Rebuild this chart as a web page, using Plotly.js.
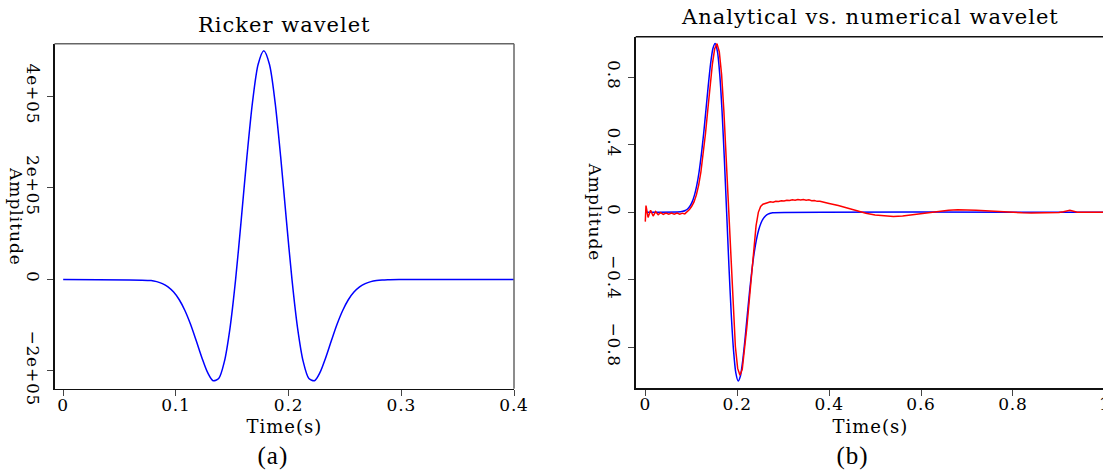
<!DOCTYPE html>
<html><head><meta charset="utf-8">
<script src="https://cdn.plot.ly/plotly-3.0.1.min.js"></script>
<style>
html,body{margin:0;padding:0;overflow:hidden;background:#fff;width:1103px;height:472px}
#chart{width:1120px;height:472px}
#chart .xtick text, #chart .ytick text, #chart .x2tick text, #chart .y2tick text{letter-spacing:0.8px}
#chart .annotation-text{letter-spacing:1px}
</style>
</head><body><div id="chart"></div><script>
// ---- Panel (a): Ricker wavelet ----
const rickerTime = [0, 0.078, 0.083, 0.088, 0.093, 0.098, 0.103, 0.108, 0.113, 0.118, 0.123, 0.128, 0.133, 0.138, 0.143, 0.148, 0.153, 0.158, 0.163, 0.168, 0.173, 0.178, 0.183, 0.188, 0.193, 0.198, 0.203, 0.208, 0.213, 0.218, 0.223, 0.228, 0.233, 0.238, 0.243, 0.248, 0.253, 0.258, 0.263, 0.268, 0.273, 0.278, 0.283, 0.288, 0.298, 0.31, 0.4];
const rickerAmp = [0, -2500, -4900, -9200, -16300, -27700, -44500, -68000, -98200, -133800, -170900, -203000, -221600, -216800, -180000, -106900, 0, 130900, 267400, 387800, 470500, 500000, 470500, 387800, 267400, 130900, 0, -106900, -180000, -216800, -221600, -203000, -170900, -133800, -98200, -68000, -44500, -27700, -16300, -9200, -4900, -2500, -1200, -600, -100, 0, 0];
const aXTicks = [0, 0.1, 0.2, 0.3, 0.4];
const aXTickText = ['0', '0.1', '0.2', '0.3', '0.4'];
const aYTicks = [-200000, 0, 200000, 400000];
const aYTickText = ['\u22122e+05', '0', '2e+05', '4e+05'];

// ---- Panel (b): Analytical vs numerical ----
const analyticTime = [0, 0.077, 0.082, 0.087, 0.092, 0.097, 0.102, 0.107, 0.112, 0.117, 0.122, 0.127, 0.132, 0.137, 0.142, 0.147, 0.152, 0.157, 0.162, 0.167, 0.172, 0.177, 0.182, 0.187, 0.192, 0.197, 0.202, 0.207, 0.212, 0.217, 0.222, 0.227, 0.232, 0.237, 0.242, 0.247, 0.252, 0.257, 0.262, 0.267, 0.272, 0.277, 1.0];
const analyticAmp = [0, 0.003, 0.006, 0.011, 0.020, 0.036, 0.062, 0.102, 0.160, 0.239, 0.343, 0.467, 0.608, 0.751, 0.879, 0.970, 1.000, 0.952, 0.818, 0.601, 0.318, 0, -0.318, -0.601, -0.818, -0.952, -1.000, -0.970, -0.879, -0.751, -0.608, -0.467, -0.343, -0.239, -0.160, -0.102, -0.062, -0.036, -0.020, -0.011, -0.006, -0.003, 0];
const numericTime = [0, 0.0015, 0.006, 0.0115, 0.017, 0.0225, 0.028, 0.0335, 0.039, 0.045, 0.051, 0.057, 0.063, 0.069, 0.075, 0.081, 0.086, 0.091, 0.096, 0.101, 0.106, 0.111, 0.116, 0.121, 0.126, 0.131, 0.136, 0.141, 0.146, 0.151, 0.156, 0.161, 0.166, 0.171, 0.176, 0.181, 0.186, 0.191, 0.196, 0.201, 0.206, 0.211, 0.216, 0.221, 0.226, 0.231, 0.236, 0.241, 0.246, 0.251, 0.256, 0.261, 0.266, 0.272, 0.278, 0.284, 0.290, 0.296, 0.302, 0.308, 0.314, 0.320, 0.326, 0.332, 0.338, 0.344, 0.350, 0.356, 0.362, 0.368, 0.374, 0.380, 0.386, 0.392, 0.400, 0.420, 0.440, 0.460, 0.480, 0.500, 0.520, 0.540, 0.560, 0.580, 0.600, 0.620, 0.640, 0.660, 0.680, 0.700, 0.720, 0.740, 0.760, 0.780, 0.800, 0.820, 0.840, 0.860, 0.880, 0.900, 0.910, 0.918, 0.924, 0.930, 0.940, 0.960, 1.000];
const numericAmp = [-0.055, 0.040, -0.030, 0.012, -0.022, 0.004, -0.014, -0.002, -0.012, -0.004, -0.011, -0.004, -0.011, -0.004, -0.011, -0.005, -0.009, 0.002, 0.016, 0.036, 0.062, 0.102, 0.160, 0.239, 0.343, 0.467, 0.608, 0.751, 0.879, 0.970, 1.000, 0.952, 0.818, 0.601, 0.318, 0.000, -0.310, -0.585, -0.795, -0.925, -0.966, -0.930, -0.820, -0.680, -0.530, -0.370, -0.220, -0.080, 0.000, 0.035, 0.048, 0.054, 0.057, 0.062, 0.060, 0.066, 0.064, 0.069, 0.067, 0.072, 0.070, 0.074, 0.072, 0.076, 0.073, 0.076, 0.072, 0.074, 0.069, 0.070, 0.065, 0.065, 0.060, 0.058, 0.052, 0.040, 0.025, 0.008, -0.006, -0.016, -0.022, -0.024, -0.022, -0.015, -0.006, 0.003, 0.009, 0.013, 0.015, 0.015, 0.013, 0.010, 0.006, 0.002, -0.001, -0.003, -0.004, -0.004, -0.003, -0.001, 0.003, 0.009, 0.012, 0.008, 0.001, 0, 0];
const bXTicks = [0, 0.2, 0.4, 0.6, 0.8, 1];
const bXTickText = ['0', '0.2', '0.4', '0.6', '0.8', '1'];
const bYTicks = [-0.8, -0.4, 0, 0.4, 0.8];
const bYTickText = ['\u22120.8', '\u22120.4', '0', '0.4', '0.8'];

// ---- layout helpers (pixel -> paper) ----
const W = 1120, H = 472;
const px = v => v / W;
const py = v => 1 - v / H;
const FONT = 'DejaVu Serif';

const baseAxis = {
  showgrid: false, zeroline: false, showline: true, linecolor: '#111', linewidth: 1.5,
  ticks: 'outside', ticklen: 6, tickwidth: 1, tickcolor: '#444',
  tickfont: {family: FONT, size: 17, color: '#000'}, fixedrange: true, tickmode: 'array'
};

const traces = [
  {x: rickerTime, y: rickerAmp, type: 'scatter', mode: 'lines', xaxis: 'x', yaxis: 'y',
   line: {color: '#0000ff', width: 1.5, shape: 'spline', smoothing: 0.8}, hoverinfo: 'skip'},
  {x: analyticTime, y: analyticAmp, type: 'scatter', mode: 'lines', xaxis: 'x2', yaxis: 'y2',
   line: {color: '#0000ff', width: 1.5, shape: 'spline', smoothing: 0.6}, hoverinfo: 'skip'},
  {x: numericTime, y: numericAmp, type: 'scatter', mode: 'lines', xaxis: 'x2', yaxis: 'y2',
   line: {color: '#ff0000', width: 1.5}, hoverinfo: 'skip'}
];

const layout = {
  width: W, height: H, margin: {l: 0, r: 0, t: 0, b: 0},
  paper_bgcolor: '#fff', plot_bgcolor: '#fff', showlegend: false,
  xaxis: Object.assign({}, baseAxis, {domain: [px(54.5), px(514)], range: [-0.0077, 0.4], anchor: 'y',
    tickvals: aXTicks, ticktext: aXTickText, ticklabelstandoff: -6}),
  yaxis: Object.assign({}, baseAxis, {domain: [py(388.7), py(43.7)], range: [-239100, 515600], anchor: 'x',
    tickvals: aYTicks, ticktext: aYTickText, tickangle: 90}),
  xaxis2: Object.assign({}, baseAxis, {domain: [px(635.7), px(1114)], range: [-0.0209, 1.02], anchor: 'y2',
    tickvals: bXTicks, ticktext: bXTickText, ticklabelstandoff: -6}),
  yaxis2: Object.assign({}, baseAxis, {domain: [py(388.3), py(36.7)], range: [-1.043, 1.041], anchor: 'x2',
    tickvals: bYTicks, ticktext: bYTickText, tickangle: 90}),
  shapes: [
    {type: 'line', xref: 'x domain', yref: 'y domain', x0: 0, x1: 1, y0: 1, y1: 1, line: {color: '#666', width: 1.5}},
    {type: 'line', xref: 'x domain', yref: 'y domain', x0: 1, x1: 1, y0: 0, y1: 1, line: {color: '#666', width: 1.5}},
    {type: 'line', xref: 'x2 domain', yref: 'y2 domain', x0: 0, x1: 1, y0: 1, y1: 1, line: {color: '#111', width: 1.5}}
  ],
  annotations: [
    {text: 'Ricker wavelet', x: px(284), y: py(25), xref: 'paper', yref: 'paper', showarrow: false,
     xanchor: 'center', yanchor: 'middle', font: {family: FONT, size: 21, color: '#000'}},
    {text: 'Analytical vs. numerical wavelet', x: px(870), y: py(17), xref: 'paper', yref: 'paper', showarrow: false,
     xanchor: 'center', yanchor: 'middle', font: {family: FONT, size: 21, color: '#000'}},
    {text: 'Time(s)', x: px(284), y: py(426), xref: 'paper', yref: 'paper', showarrow: false,
     xanchor: 'center', yanchor: 'middle', font: {family: FONT, size: 18, color: '#000'}},
    {text: 'Time(s)', x: px(870), y: py(426), xref: 'paper', yref: 'paper', showarrow: false,
     xanchor: 'center', yanchor: 'middle', font: {family: FONT, size: 18, color: '#000'}},
    {text: 'Amplitude', x: px(15.5), y: py(216), xref: 'paper', yref: 'paper', showarrow: false, textangle: 90,
     xanchor: 'center', yanchor: 'middle', font: {family: FONT, size: 17, color: '#000'}},
    {text: 'Amplitude', x: px(595), y: py(212), xref: 'paper', yref: 'paper', showarrow: false, textangle: 90,
     xanchor: 'center', yanchor: 'middle', font: {family: FONT, size: 17, color: '#000'}},
    {text: '(a)', x: px(272.5), y: py(456), xref: 'paper', yref: 'paper', showarrow: false,
     xanchor: 'center', yanchor: 'middle', font: {family: 'Liberation Serif', size: 25, color: '#000'}},
    {text: '(b)', x: px(852), y: py(456), xref: 'paper', yref: 'paper', showarrow: false,
     xanchor: 'center', yanchor: 'middle', font: {family: 'Liberation Serif', size: 25, color: '#000'}}
  ]
};

Plotly.newPlot('chart', traces, layout, {staticPlot: true, displayModeBar: false});
</script></body></html>
